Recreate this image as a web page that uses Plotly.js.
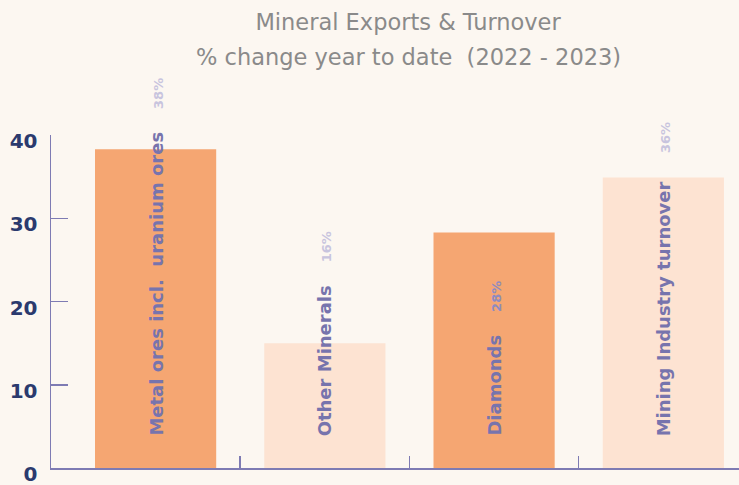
<!DOCTYPE html>
<html>
<head>
<meta charset="utf-8">
<script src="https://cdn.plot.ly/plotly-3.0.1.min.js"></script>
<style>html,body{margin:0;padding:0;background:#FCF7F1;}</style>
</head>
<body>
<div id="chart" style="width:739px;height:485px;"></div>
<script>
// Data
const categories = ["Metal ores incl.  uranium ores", "Other Minerals", "Diamonds", "Mining Industry turnover"];
const values = [38.3, 15.0, 28.3, 34.9];
const valueLabels = ["38%", "16%", "28%", "36%"];
const yTickVals = [0, 10, 20, 30, 40];
const titleLine1 = 'Mineral Exports & Turnover';
const titleLine2 = '% change year to date  (2022 - 2023)';

// Styles
const barColors = ["#F5A672", "#FDE3D2", "#F5A672", "#FDE3D2"];
const valueLabelColors = ["#C8C4DE", "#C8C4DE", "#8E8BC0", "#C8C4DE"];
const gapSpaces = [4, 4, 4, 5];
const xs = categories.map((_, i) => i);
const titleFont = {family: 'DejaVu Sans, sans-serif', size: 22.5, color: '#8A8A8A'};

const annotations = categories.map((c, i) => ({
  x: xs[i], y: 0, xref: 'x', yref: 'y',
  text: '<b>' + c + '</b>' + '&nbsp;'.repeat(gapSpaces[i]) +
        '<span style="font-size:13px;color:' + valueLabelColors[i] + '"><b>' + valueLabels[i] + '</b></span>',
  textangle: -90, showarrow: false,
  xanchor: 'center', yanchor: 'bottom', yshift: 30,
  font: {family: 'DejaVu Sans, sans-serif', size: 18, color: '#7774AD'}
}));
annotations.push({
  x: 0.519, y: 1.234, xref: 'paper', yref: 'paper',
  xanchor: 'center', yanchor: 'middle', showarrow: false,
  text: titleLine2, font: titleFont
});

const trace = {
  type: 'bar', x: xs, y: values,
  marker: {color: barColors},
  width: 0.716,
  hoverinfo: 'none'
};

const layout = {
  width: 739, height: 485,
  paper_bgcolor: '#FCF7F1', plot_bgcolor: '#FCF7F1',
  margin: {l: 51, r: 0, t: 135, b: 17},
  title: {
    text: titleLine1,
    font: titleFont,
    x: 0.519, xref: 'paper', xanchor: 'center',
    y: 0.970, yref: 'container', yanchor: 'top'
  },
  showlegend: false,
  xaxis: {
    range: [-0.618, 3.447],
    tickmode: 'array', tickvals: [0.5, 1.5, 2.5],
    showticklabels: false,
    ticks: 'inside', ticklen: 12, tickwidth: 1.5, tickcolor: '#7E7BB3',
    showline: true, linecolor: '#7E7BB3', linewidth: 1.5,
    showgrid: false, zeroline: false, fixedrange: true
  },
  yaxis: {
    range: [0, 40],
    tickmode: 'array', tickvals: yTickVals,
    ticks: 'inside', ticklen: 17, tickwidth: 1.5, tickcolor: '#7E7BB3',
    showline: true, linecolor: '#7E7BB3', linewidth: 1.5,
    showgrid: false, zeroline: false,
    tickfont: {family: 'DejaVu Sans, sans-serif', size: 20, color: '#2B3A6E', weight: 'bold'},
    ticklabelstandoff: 8, ticklabelshift: 6, ticklabeloverflow: 'allow',
    fixedrange: true
  },
  annotations: annotations
};

Plotly.newPlot('chart', [trace], layout, {displayModeBar: false, staticPlot: true});
</script>
</body>
</html>
